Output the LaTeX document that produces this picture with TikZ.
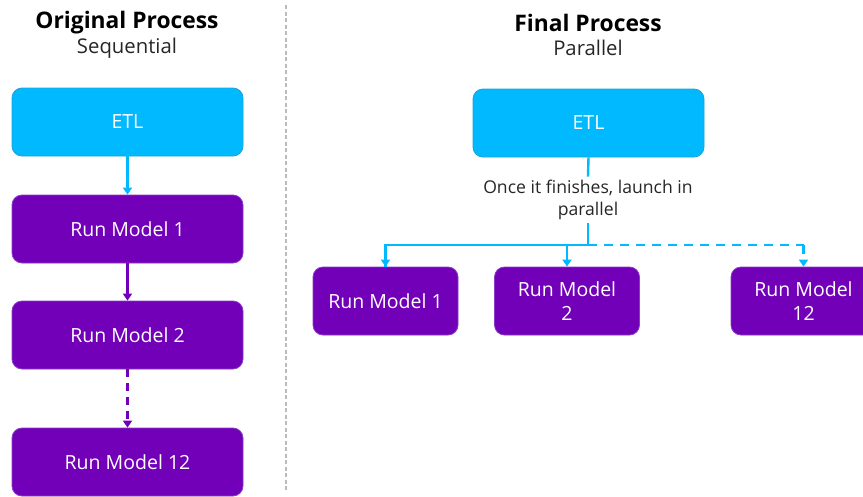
\documentclass[tikz,border=0pt]{standalone}
\usepackage{fontspec}
\setmainfont{Open Sans}
\usetikzlibrary{arrows.meta}
\definecolor{etlc}{HTML}{00B9FF}
\definecolor{etlb}{HTML}{1AA3D9}
\definecolor{runc}{HTML}{7200B9}
\definecolor{runb}{HTML}{8A3CC8}
\definecolor{sepc}{HTML}{BBBBBB}
\tikzset{
  etlbox/.style={draw=etlb, fill=etlc, rounded corners=10pt, line width=0.8pt, text=white, font=\fontsize{19.5}{24}\selectfont, align=center, inner sep=0pt},
  runbox/.style={draw=runb, fill=runc, rounded corners=10pt, line width=0.8pt, text=white, font=\fontsize{19.5}{24}\selectfont, align=center, inner sep=0pt},
  cyanarr/.style={draw=etlc, line width=2.4pt, -{Triangle[width=9pt,length=7pt]}},
  purparr/.style={draw=runc, line width=2.4pt, -{Triangle[width=9pt,length=7pt]}},
  cyanln/.style={draw=etlc, line width=2.4pt},
  ttl/.style={font=\fontsize{22.8}{26}\bfseries\selectfont, text=black},
  sub/.style={font=\fontsize{20.3}{23}\selectfont, text=black!85},
  lbl/.style={font=\fontsize{17.6}{22}\selectfont, text=black!85, align=center}
}
\begin{document}
\begin{tikzpicture}[x=1pt,y=-1pt]
\useasboundingbox (0,0) rectangle (863,496);
\begin{scope}
\clip (0,0) rectangle (863,496);
% separator
\draw[sepc, line width=1.2pt, dash pattern=on 4pt off 2.5pt] (286,5) -- (286,491);
% left titles
\node[ttl] (t1) at (127,23) {Original Process};
\node[sub] (s1) at (127,48) {Sequential};
% left boxes
\node[etlbox, minimum width=231pt, minimum height=68pt] (le) at (127.5,122) {ETL};
\node[runbox, minimum width=231pt, minimum height=68pt] (l1) at (127.5,229) {Run Model 1};
\node[runbox, minimum width=231pt, minimum height=68pt] (l2) at (127.5,335) {Run Model 2};
\node[runbox, minimum width=231pt, minimum height=68pt] (l12) at (127.5,462) {Run Model 12};
\draw[cyanarr] (le.south) -- (l1.north);
\draw[purparr] (l1.south) -- (l2.north);
\draw[purparr, dashed, dash pattern=on 8pt off 6pt] (l2.south) -- (l12.north);
% right titles
\node[ttl] (t2) at (588,23) {Final Process};
\node[sub] (s2) at (588,48) {Parallel};
\node[etlbox, minimum width=231pt, minimum height=68pt] (re) at (588.5,123) {ETL};
\node[lbl] (lab) at (588,200) {Once it finishes, launch in\\parallel};
\node[runbox, minimum width=145pt, minimum height=68pt] (r1) at (385.5,301) {Run Model 1};
\node[runbox, minimum width=145pt, minimum height=68pt] (r2) at (567,301) {Run Model\\2};
\node[runbox, minimum width=145pt, minimum height=68pt] (r12) at (803.5,301) {Run Model\\12};
\coordinate (j) at (588,245);
\draw[cyanln] (re.south) -- (lab.north);
\draw[cyanln] (lab.south) -- (j);
\draw[cyanln] (j) -- (j -| r1.north) -- (r1.north);
\draw[cyanarr] (j -| r1.north) -- (r1.north);
\draw[cyanarr] (j -| r2.north) -- (r2.north);
\draw[cyanln, dash pattern=on 9pt off 7pt] (j) -- (j -| r12.north);
\draw[cyanarr, dash pattern=on 9pt off 7pt] (j -| r12.north) -- (r12.north);
\end{scope}
\end{tikzpicture}
\end{document}
